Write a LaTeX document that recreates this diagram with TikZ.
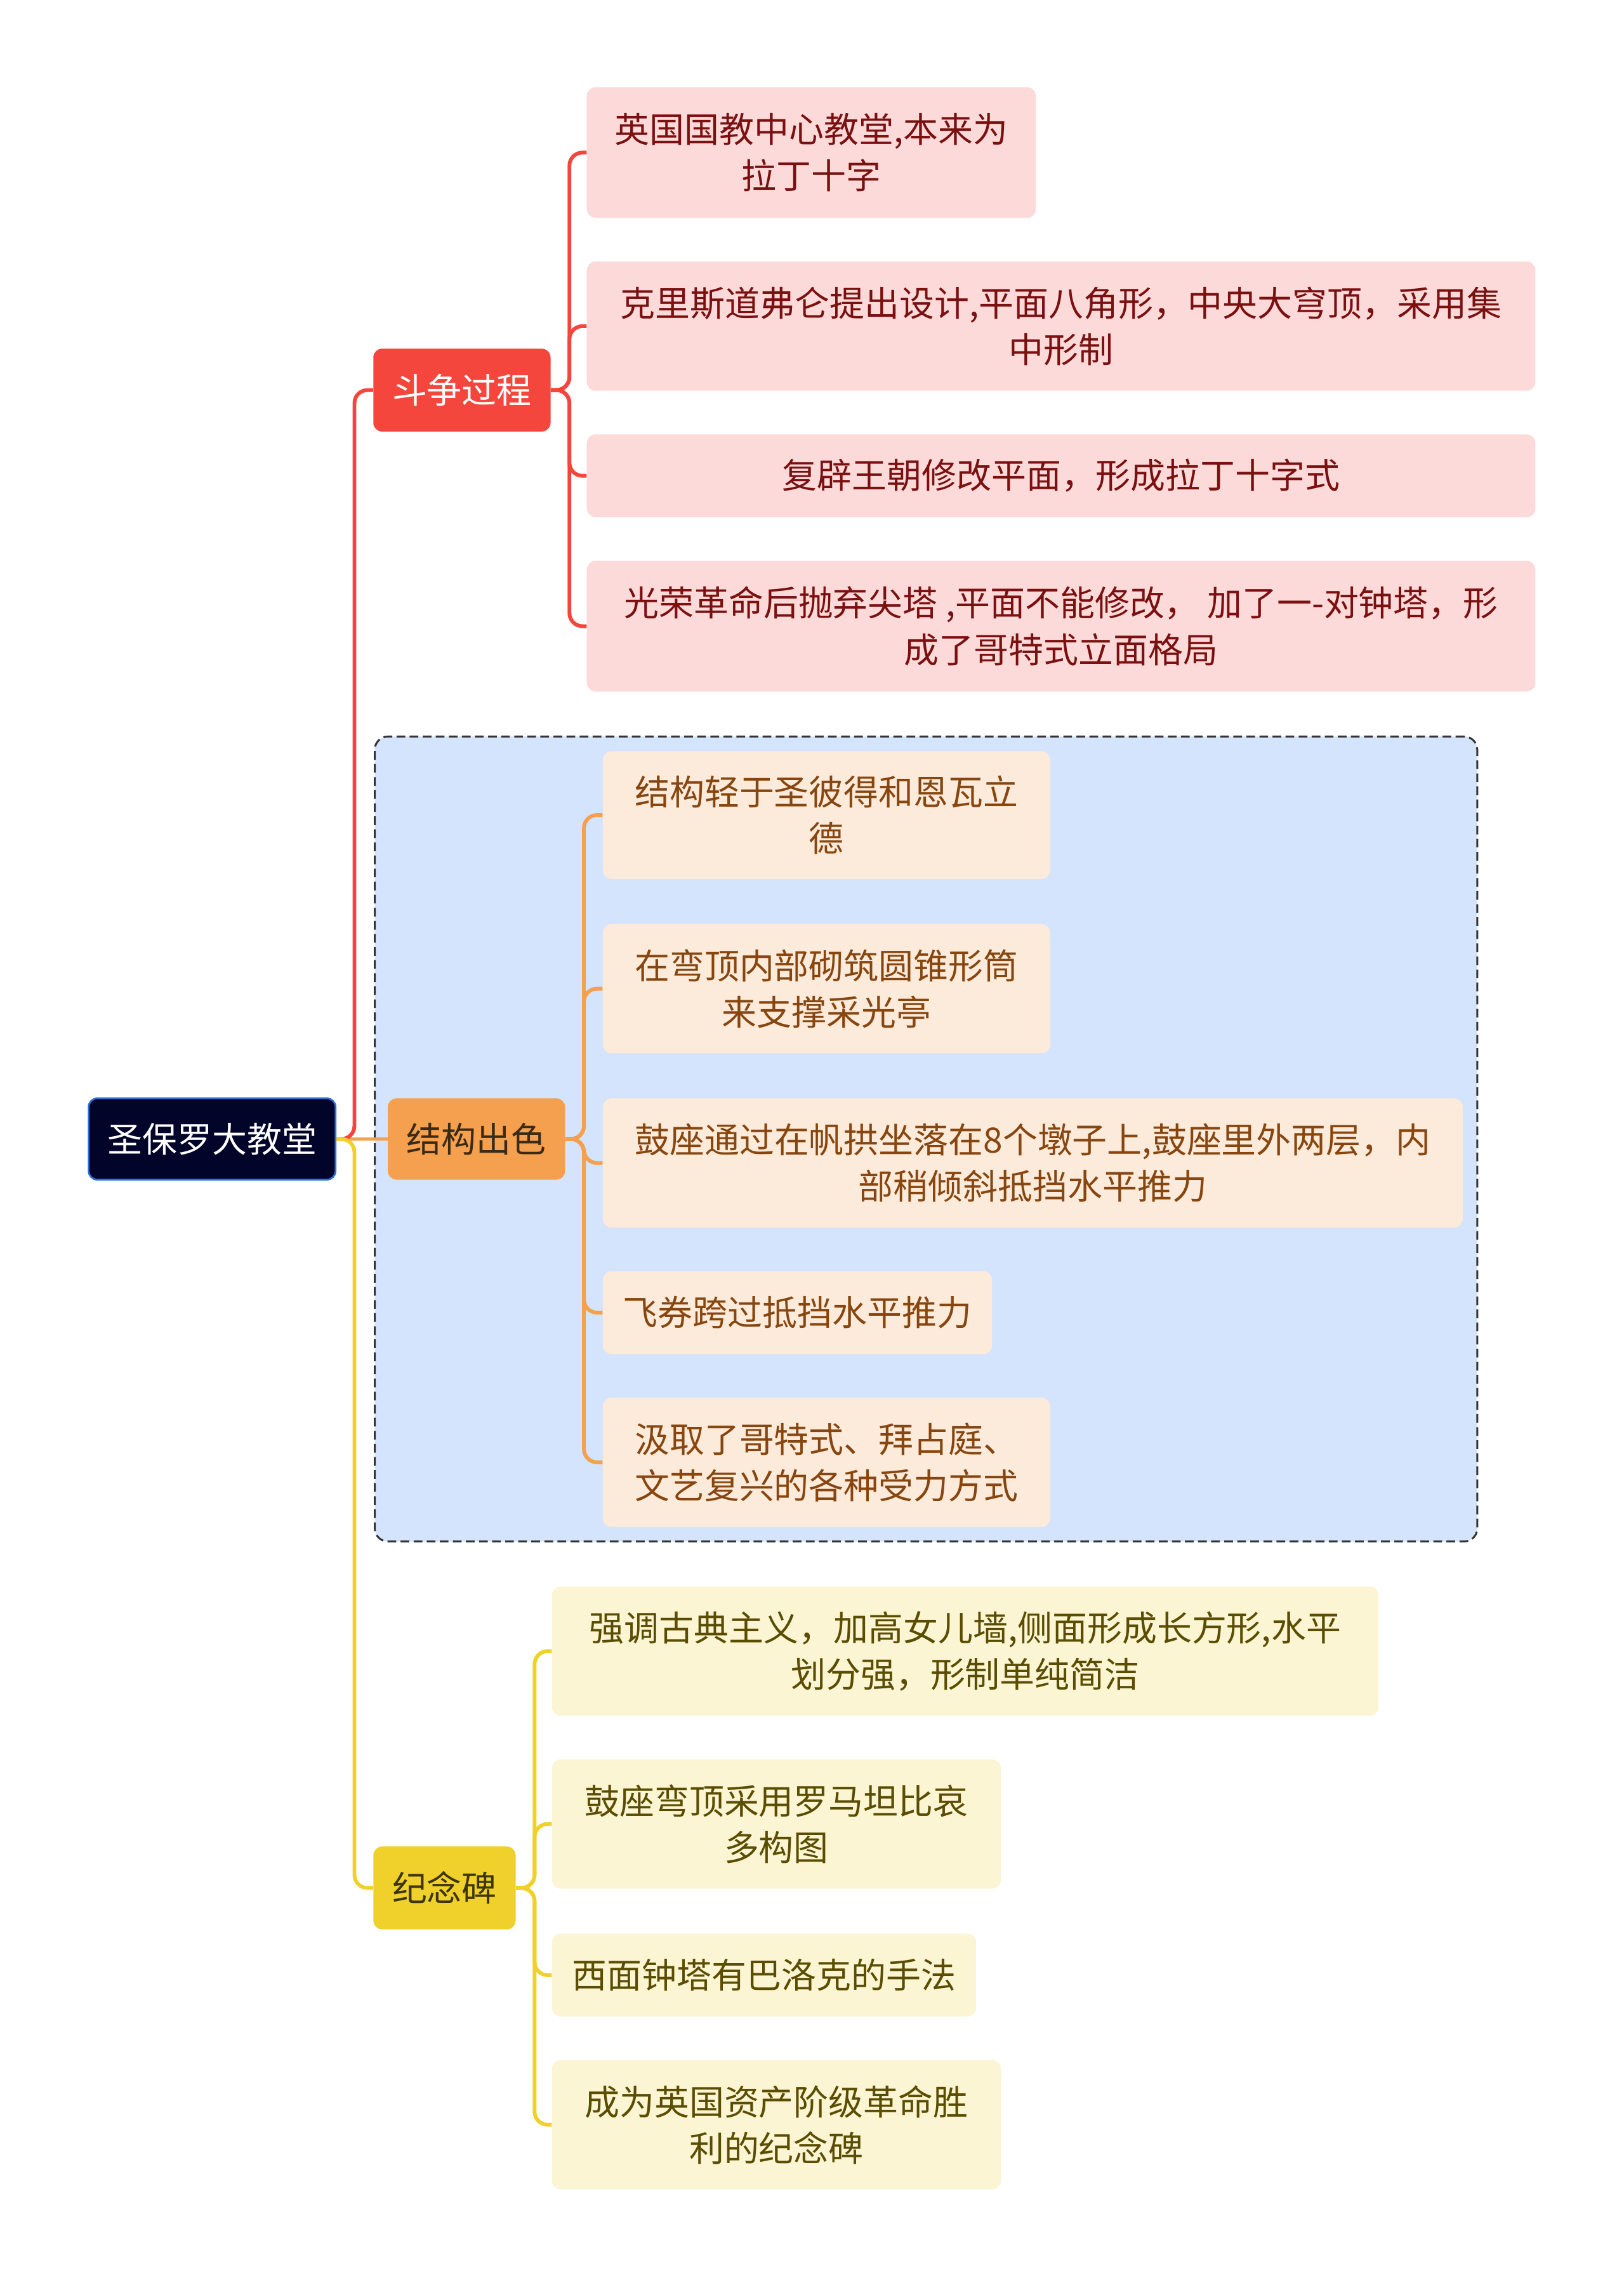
\documentclass[tikz,border=0pt]{standalone}
\usepackage{fontspec}
\setmainfont{Noto Sans CJK SC}
\definecolor{rootfill}{HTML}{03042A}
\definecolor{rootedge}{HTML}{2F6FD6}
\definecolor{cR}{HTML}{F4463D}
\definecolor{cO}{HTML}{F4A04E}
\definecolor{cY}{HTML}{F0D12B}
\definecolor{lR}{HTML}{FDDADA}
\definecolor{lO}{HTML}{FCEADA}
\definecolor{lY}{HTML}{FBF5D3}
\definecolor{tR}{HTML}{7A1010}
\definecolor{tO}{HTML}{87460F}
\definecolor{tY}{HTML}{5A4C00}
\definecolor{tOm}{HTML}{3B2A14}
\definecolor{tYm}{HTML}{3D3500}
\definecolor{grpfill}{HTML}{D4E4FC}
\tikzset{
  base/.style={rounded corners=6pt, align=center, inner sep=0pt, font=\fontsize{24}{32}\selectfont},
  rootbox/.style={base, fill=rootfill, draw=rootedge, line width=1.2pt, text=white},
  mainR/.style={base, fill=cR, text=white},
  mainO/.style={base, fill=cO, text=tOm},
  mainY/.style={base, fill=cY, text=tYm},
  leafR/.style={base, fill=lR, text=tR},
  leafO/.style={base, fill=lO, text=tO},
  leafY/.style={base, fill=lY, text=tY},
  grpbox/.style={rounded corners=9pt, fill=grpfill, draw=black!80, line width=1.3pt, dash pattern=on 6pt off 3pt},
  lnR/.style={draw=cR, line width=2.6pt, rounded corners=9pt},
  lnO/.style={draw=cO, line width=2.6pt, rounded corners=9pt},
  lnY/.style={draw=cY, line width=2.6pt, rounded corners=9pt},
  sz/.style 2 args={minimum width=#1pt, minimum height=#2pt},
}
\begin{document}
\begin{tikzpicture}[x=1pt, y=-1pt]
\useasboundingbox (0,0) rectangle (1118,1568);
% group background
\node[grpbox, sz={759}{554}] (grp) at (637.5,784) {};
% nodes
\node[rootbox, sz={170}{56}] (root) at (146,784) {圣保罗大教堂};
\node[mainR, sz={122}{57}] (m1) at (318,268.5) {斗争过程};
\node[mainO, sz={122}{56}] (m2) at (328,784) {结构出色};
\node[mainY, sz={98}{57}] (m3) at (306,1299.5) {纪念碑};

\node[leafR, sz={309}{90}] (a1) at (558.5,105) {英国国教中心教堂,本来为\\拉丁十字};
\node[leafR, sz={653}{89}] (a2) at (730.5,224.5) {克里斯道弗仑提出设计,平面八角形，中央大穹顶，采用集\\中形制};
\node[leafR, sz={653}{57}] (a3) at (730.5,327.5) {复辟王朝修改平面，形成拉丁十字式};
\node[leafR, sz={653}{90}] (a4) at (730.5,431) {光荣革命后抛弃尖塔 ,平面不能修改， 加了一-对钟塔，形\\成了哥特式立面格局};

\node[leafO, sz={308}{88}] (b1) at (569,561) {结构轻于圣彼得和恩瓦立\\德};
\node[leafO, sz={308}{89}] (b2) at (569,680.5) {在弯顶内部砌筑圆锥形筒\\来支撑采光亭};
\node[leafO, sz={592}{89}] (b3) at (711,800.5) {鼓座通过在帆拱坐落在8个墩子上,鼓座里外两层，内\\部稍倾斜抵挡水平推力};
\node[leafO, sz={268}{57}] (b4) at (549,903.5) {飞券跨过抵挡水平推力};
\node[leafO, sz={308}{89}] (b5) at (569,1006.5) {汲取了哥特式、拜占庭、\\文艺复兴的各种受力方式};

\node[leafY, sz={569}{89}] (c1) at (664.5,1136.5) {强调古典主义，加高女儿墙,侧面形成长方形,水平\\划分强，形制单纯简洁};
\node[leafY, sz={309}{89}] (c2) at (534.5,1255.5) {鼓座弯顶采用罗马坦比哀\\多构图};
\node[leafY, sz={292}{57}] (c3) at (526,1359.5) {西面钟塔有巴洛克的手法};
\node[leafY, sz={309}{89}] (c4) at (534.5,1462.5) {成为英国资产阶级革命胜\\利的纪念碑};

% branch coordinates
\coordinate (r0) at (244,0);
\coordinate (k1) at (392,0);
\coordinate (k2) at (402,0);
\coordinate (k3) at (368,0);

% root connectors
\draw[lnO, rounded corners=0pt] (root.east) -- (m2.west);
\draw[lnR] (root.east) -- (root.east -| r0) |- (m1.west);
\draw[lnY] (root.east) -- (root.east -| r0) |- (m3.west);

% group 1
\foreach \n in {a1,a2,a3,a4}{\draw[lnR] (m1.east) -- (m1.east -| k1) |- (\n.west);}
% group 2
\foreach \n in {b1,b2,b3,b4,b5}{\draw[lnO] (m2.east) -- (m2.east -| k2) |- (\n.west);}
% group 3
\foreach \n in {c1,c2,c3,c4}{\draw[lnY] (m3.east) -- (m3.east -| k3) |- (\n.west);}
\end{tikzpicture}
\end{document}
